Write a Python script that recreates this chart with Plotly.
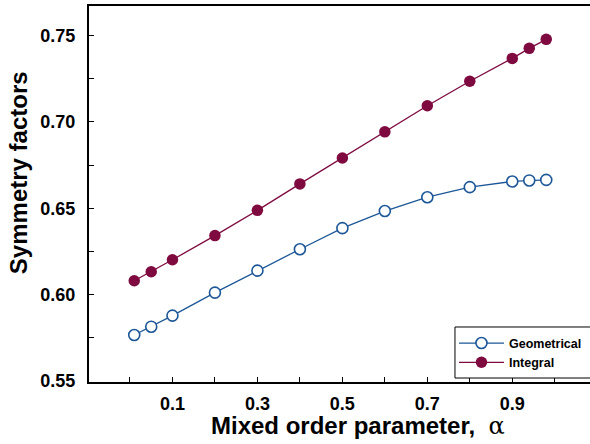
import plotly.graph_objects as go

alpha = [0.01, 0.05, 0.1, 0.2, 0.3, 0.4, 0.5, 0.6, 0.7, 0.8, 0.9, 0.94, 0.98]
geometrical = [0.5767, 0.5815, 0.5879, 0.6012, 0.6139, 0.6263, 0.6385, 0.6484, 0.6564, 0.6622, 0.6655, 0.6661, 0.6664]
integral = [0.6081, 0.6133, 0.6202, 0.6342, 0.6488, 0.6641, 0.6791, 0.6942, 0.7093, 0.7235, 0.7367, 0.7425, 0.7477]

x_labels = [0.1, 0.3, 0.5, 0.7, 0.9]
y_labels = [0.55, 0.60, 0.65, 0.70, 0.75]

x_title = "Mixed order parameter,  <span style='font-family:DejaVu Serif;font-weight:normal'>α</span>"
y_title = "Symmetry factors"

blue = "#1d5797"
maroon = "#7e0a40"
font = "Liberation Sans, Arial, sans-serif"

fig = go.Figure()
fig.add_trace(go.Scatter(
    x=alpha, y=geometrical, mode="lines+markers", name="Geometrical",
    line=dict(color=blue, width=1.3),
    marker=dict(symbol="circle", size=11, color="white", line=dict(color=blue, width=1.6)),
))
fig.add_trace(go.Scatter(
    x=alpha, y=integral, mode="lines+markers", name="Integral",
    line=dict(color=maroon, width=1.3),
    marker=dict(symbol="circle", size=11.5, color=maroon, line=dict(color=maroon, width=0)),
))

fig.update_layout(
    width=590, height=444,
    margin=dict(l=89, r=0, t=6, b=62),
    paper_bgcolor="white", plot_bgcolor="white",
    font=dict(family=font, color="black"),
    showlegend=True,
    legend=dict(
        x=0.7285, y=0.1425, xanchor="left", yanchor="top",
        borderwidth=0, bgcolor="rgba(0,0,0,0)",
        font=dict(family=font, size=12.5, color="black", weight="bold"),
        itemwidth=45, tracegroupgap=0,
    ),
    shapes=[
        dict(type="rect", xref="paper", yref="paper",
             x0=0.7305, x1=1.05, y0=0.0106, y1=0.1463,
             line=dict(color="black", width=1), fillcolor="white", layer="above"),
    ],
    annotations=[
        dict(text=x_title, xref="paper", yref="paper", x=0.536, y=-0.117,
             xanchor="center", yanchor="middle", showarrow=False,
             font=dict(family=font, size=24, color="black", weight="bold")),
        dict(text=y_title, xref="paper", yref="paper", x=-0.1417, y=0.5555,
             xanchor="center", yanchor="middle", showarrow=False, textangle=-90,
             font=dict(family=font, size=24, color="black", weight="bold")),
    ],
)

fig.update_xaxes(
    range=[-0.0965, 1.083],
    tickvals=x_labels, ticktext=[f"{v:.1f}" for v in x_labels],
    ticks="inside", ticklen=5, tickwidth=1, tickcolor="black",
    minor=dict(tick0=0, dtick=0.1, ticks="inside", ticklen=5, tickwidth=1, tickcolor="black"),
    showline=True, linecolor="black", linewidth=2, mirror=True,
    showgrid=False, zeroline=False,
    ticklabelstandoff=4,
    tickfont=dict(family=font, size=18, color="black", weight="bold"),
)
fig.update_yaxes(
    range=[0.5495, 0.767],
    tickvals=y_labels, ticktext=[f"{v:.2f}" for v in y_labels],
    ticks="inside", ticklen=5, tickwidth=1, tickcolor="black",
    minor=dict(tick0=0.55, dtick=0.025, ticks="inside", ticklen=5, tickwidth=1, tickcolor="black"),
    showline=True, linecolor="black", linewidth=2, mirror=False,
    showgrid=False, zeroline=False,
    ticklabelstandoff=8,
    tickfont=dict(family=font, size=18, color="black", weight="bold"),
)

fig.write_html("out.html")
